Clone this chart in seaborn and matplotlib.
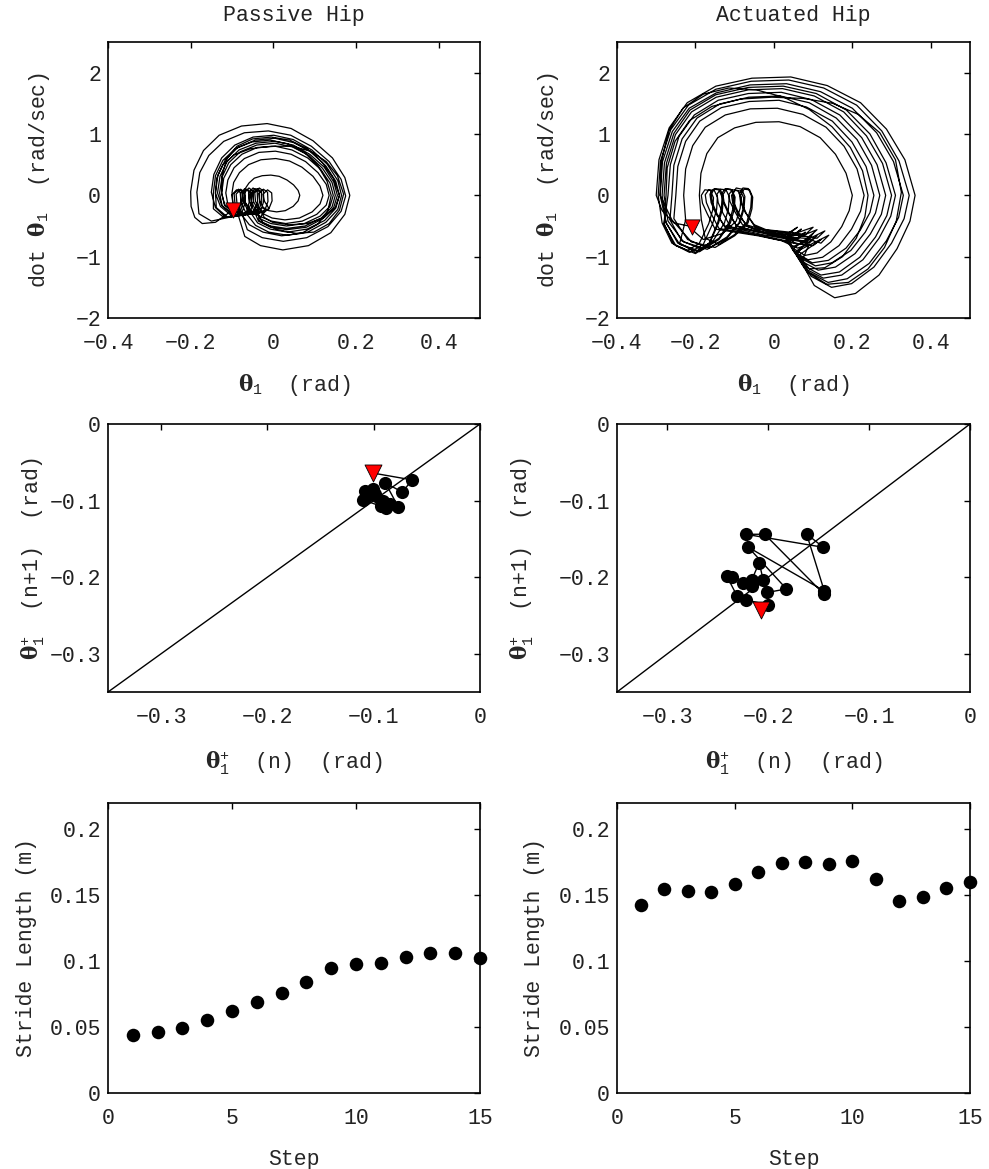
import matplotlib
matplotlib.use('Agg')
import matplotlib.pyplot as plt
import seaborn as sns

# ---- top row: phase portraits, one list per step loop ----
passive_theta = [
    [-0.098, -0.140, -0.172, -0.190, -0.199],
    [-0.200, -0.192, -0.169, -0.131, -0.077, -0.015, 0.043, 0.096, 0.143, 0.173, 0.185, 0.173,
     0.139, 0.085, 0.023, -0.031, -0.069, -0.086, -0.098, -0.100, -0.089, -0.079, -0.078,
     -0.087, -0.150, -0.180],
    [-0.185, -0.178, -0.156, -0.120, -0.070, -0.012, 0.042, 0.092, 0.135, 0.164, 0.175, 0.164,
     0.132, 0.081, 0.024, -0.027, -0.063, -0.076, -0.088, -0.090, -0.079, -0.069, -0.068,
     -0.077, -0.120, -0.145],
    [-0.145, -0.140, -0.122, -0.092, -0.052, -0.008, 0.035, 0.075, 0.108, 0.130, 0.140, 0.132,
     0.108, 0.068, 0.020, -0.025, -0.058, -0.081, -0.093, -0.095, -0.084, -0.074, -0.073,
     -0.082, -0.115, -0.140],
    [-0.150, -0.144, -0.125, -0.093, -0.049, 0.001, 0.048, 0.093, 0.130, 0.156, 0.165, 0.156,
     0.127, 0.083, 0.033, -0.011, -0.043, -0.066, -0.078, -0.080, -0.069, -0.059, -0.058,
     -0.067, -0.110, -0.138],
    [-0.140, -0.134, -0.116, -0.086, -0.044, 0.004, 0.049, 0.091, 0.127, 0.151, 0.160, 0.151,
     0.124, 0.082, 0.034, -0.008, -0.038, -0.056, -0.068, -0.070, -0.059, -0.049, -0.048,
     -0.057, -0.100, -0.128],
    [-0.140, -0.137, -0.122, -0.095, -0.055, -0.005, 0.045, 0.090, 0.128, 0.155, 0.170, 0.160,
     0.135, 0.098, 0.055, 0.010, -0.025, -0.041, -0.053, -0.055, -0.044, -0.034, -0.033,
     -0.042, -0.095, -0.125],
    [-0.135, -0.129, -0.112, -0.083, -0.042, 0.004, 0.048, 0.088, 0.123, 0.146, 0.155, 0.146,
     0.120, 0.080, 0.033, -0.007, -0.036, -0.046, -0.058, -0.060, -0.049, -0.039, -0.038,
     -0.047, -0.095, -0.124],
    [-0.130, -0.124, -0.108, -0.080, -0.040, 0.004, 0.046, 0.086, 0.119, 0.142, 0.150, 0.142,
     0.116, 0.077, 0.032, -0.007, -0.035, -0.036, -0.048, -0.050, -0.039, -0.029, -0.028,
     -0.037, -0.090, -0.118],
    [-0.125, -0.124, -0.112, -0.088, -0.050, -0.005, 0.040, 0.082, 0.118, 0.145, 0.160, 0.150,
     0.123, 0.082, 0.038, -0.002, -0.022, -0.031, -0.043, -0.045, -0.034, -0.024, -0.023,
     -0.032, -0.085, -0.118],
    [-0.125, -0.120, -0.103, -0.076, -0.039, 0.005, 0.045, 0.083, 0.115, 0.137, 0.145, 0.137,
     0.113, 0.075, 0.032, -0.006, -0.033, -0.021, -0.033, -0.035, -0.024, -0.014, -0.013,
     -0.022, -0.080, -0.110],
    [-0.115, -0.110, -0.095, -0.070, -0.035, 0.005, 0.043, 0.078, 0.108, 0.128, 0.135, 0.128,
     0.105, 0.070, 0.030, -0.005, -0.030, -0.061, -0.073, -0.075, -0.064, -0.054, -0.053,
     -0.062, -0.085, -0.098],
    [-0.100, -0.096, -0.082, -0.060, -0.030, 0.006, 0.039, 0.069, 0.096, 0.113, 0.120, 0.113,
     0.094, 0.063, 0.028, -0.003, -0.025, -0.011, -0.023, -0.025, -0.014, -0.004, -0.003,
     -0.012, -0.050, -0.068],
    [-0.070, -0.067, -0.059, -0.046, -0.027, -0.006, 0.014, 0.033, 0.049, 0.060, 0.064, 0.060,
     0.048, 0.029, 0.008, -0.011, -0.024, -0.050, -0.075],
]
passive_omega = [
    [-0.24, -0.44, -0.46, -0.36, -0.18],
    [0.06, 0.41, 0.73, 0.98, 1.13, 1.17, 1.09, 0.89, 0.61, 0.29, 0.00, -0.31,
     -0.61, -0.82, -0.89, -0.82, -0.67, -0.30, -0.14, 0.01, 0.09, 0.04, -0.12,
     -0.33, -0.42, -0.30],
    [0.05, 0.37, 0.65, 0.88, 1.02, 1.05, 0.98, 0.80, 0.55, 0.26, -0.01, -0.26,
     -0.51, -0.69, -0.75, -0.69, -0.56, -0.29, -0.13, 0.02, 0.10, 0.05, -0.11,
     -0.31, -0.36, -0.22],
    [0.04, 0.32, 0.57, 0.76, 0.87, 0.90, 0.84, 0.70, 0.48, 0.23, 0.00, -0.25,
     -0.47, -0.62, -0.66, -0.60, -0.48, -0.28, -0.12, 0.03, 0.10, 0.05, -0.11,
     -0.32, -0.36, -0.20],
    [0.05, 0.34, 0.61, 0.82, 0.95, 0.98, 0.91, 0.74, 0.51, 0.24, 0.00, -0.23,
     -0.44, -0.60, -0.65, -0.60, -0.49, -0.29, -0.12, 0.03, 0.11, 0.06, -0.10,
     -0.32, -0.36, -0.20],
    [0.05, 0.33, 0.58, 0.78, 0.90, 0.93, 0.86, 0.71, 0.48, 0.23, 0.00, -0.21,
     -0.41, -0.55, -0.60, -0.55, -0.45, -0.27, -0.11, 0.04, 0.12, 0.07, -0.09,
     -0.30, -0.34, -0.18],
    [0.03, 0.28, 0.50, 0.66, 0.76, 0.80, 0.80, 0.72, 0.55, 0.32, 0.02, -0.24,
     -0.46, -0.60, -0.62, -0.56, -0.45, -0.26, -0.11, 0.03, 0.11, 0.06, -0.10,
     -0.30, -0.33, -0.16],
    [0.04, 0.31, 0.55, 0.74, 0.85, 0.88, 0.82, 0.67, 0.46, 0.22, 0.00, -0.20,
     -0.38, -0.52, -0.56, -0.52, -0.42, -0.26, -0.10, 0.04, 0.12, 0.06, -0.10,
     -0.29, -0.34, -0.17],
    [0.04, 0.30, 0.53, 0.71, 0.82, 0.85, 0.79, 0.65, 0.44, 0.21, 0.00, -0.19,
     -0.37, -0.50, -0.54, -0.50, -0.41, -0.25, -0.10, 0.03, 0.11, 0.06, -0.10,
     -0.28, -0.33, -0.16],
    [0.03, 0.33, 0.60, 0.80, 0.92, 0.95, 0.90, 0.76, 0.54, 0.28, 0.00, -0.20,
     -0.36, -0.46, -0.48, -0.44, -0.36, -0.25, -0.10, 0.04, 0.12, 0.07, -0.09,
     -0.29, -0.33, -0.15],
    [0.04, 0.28, 0.50, 0.67, 0.78, 0.80, 0.74, 0.61, 0.42, 0.20, 0.00, -0.18,
     -0.34, -0.46, -0.50, -0.46, -0.38, -0.24, -0.09, 0.03, 0.10, 0.05, -0.10,
     -0.27, -0.32, -0.15],
    [0.04, 0.25, 0.45, 0.60, 0.70, 0.72, 0.67, 0.55, 0.37, 0.18, 0.00, -0.16,
     -0.31, -0.42, -0.46, -0.42, -0.35, -0.25, -0.10, 0.03, 0.10, 0.05, -0.11,
     -0.28, -0.30, -0.12],
    [0.04, 0.21, 0.37, 0.50, 0.58, 0.60, 0.56, 0.46, 0.31, 0.15, 0.00, -0.14,
     -0.27, -0.37, -0.40, -0.37, -0.30, -0.21, -0.08, 0.02, 0.09, 0.04, -0.09,
     -0.24, -0.28, -0.12],
    [0.02, 0.12, 0.20, 0.28, 0.32, 0.33, 0.31, 0.25, 0.17, 0.08, 0.00, -0.09,
     -0.18, -0.25, -0.27, -0.25, -0.20, -0.26, -0.30],
]

actuated_theta = [
    [-0.209, -0.255, -0.285],
    [-0.300, -0.293, -0.267, -0.221, -0.148, -0.056, 0.043, 0.136, 0.221, 0.287, 0.334, 0.360,
     0.347, 0.314, 0.268, 0.208, 0.155, 0.103, 0.070, 0.090, 0.060, 0.020, -0.040, -0.150,
     -0.170, -0.182, -0.185, -0.176, -0.162, -0.154, -0.156, -0.166,
     -0.190, -0.220, -0.260, -0.285],
    [-0.295, -0.289, -0.263, -0.218, -0.148, -0.058, 0.038, 0.127, 0.211, 0.275, 0.319, 0.345,
     0.332, 0.300, 0.255, 0.198, 0.147, 0.095, 0.063, 0.120, 0.100, 0.050, -0.020, -0.125,
     -0.145, -0.157, -0.160, -0.151, -0.137, -0.129, -0.131, -0.141,
     -0.165, -0.200, -0.250, -0.280],
    [-0.275, -0.272, -0.252, -0.215, -0.158, -0.085, -0.005, 0.075, 0.150, 0.215, 0.270, 0.310,
     0.325, 0.312, 0.282, 0.240, 0.190, 0.135, 0.085, 0.055, 0.110, 0.090, 0.040, -0.030,
     -0.110, -0.130, -0.142, -0.145, -0.136, -0.122, -0.114, -0.116, -0.126,
     -0.155, -0.195, -0.245, -0.275],
    [-0.290, -0.284, -0.259, -0.216, -0.147, -0.061, 0.032, 0.119, 0.200, 0.262, 0.305, 0.330,
     0.318, 0.287, 0.243, 0.187, 0.138, 0.088, 0.057, 0.140, 0.120, 0.080, 0.000, -0.095,
     -0.115, -0.127, -0.130, -0.121, -0.107, -0.099, -0.101, -0.111,
     -0.140, -0.190, -0.240, -0.275],
    [-0.285, -0.279, -0.255, -0.214, -0.148, -0.065, 0.024, 0.108, 0.185, 0.245, 0.286, 0.310,
     0.298, 0.268, 0.227, 0.173, 0.126, 0.078, 0.048, 0.100, 0.085, 0.050, -0.010, -0.070,
     -0.090, -0.102, -0.105, -0.096, -0.082, -0.074, -0.076, -0.086,
     -0.120, -0.170, -0.230, -0.270],
    [-0.280, -0.274, -0.251, -0.210, -0.147, -0.065, 0.022, 0.103, 0.178, 0.236, 0.277, 0.300,
     0.288, 0.259, 0.219, 0.167, 0.120, 0.074, 0.045, 0.130, 0.110, 0.070, 0.000, -0.050,
     -0.070, -0.082, -0.085, -0.076, -0.062, -0.054, -0.056, -0.066,
     -0.100, -0.150, -0.210, -0.260],
    [-0.290, -0.287, -0.268, -0.232, -0.180, -0.115, -0.045, 0.025, 0.090, 0.148, 0.195, 0.226,
     0.240, 0.232, 0.210, 0.175, 0.130, 0.090, 0.060, 0.090, 0.070, 0.030, -0.030, -0.140,
     -0.160, -0.172, -0.175, -0.166, -0.152, -0.144, -0.146, -0.156,
     -0.180, -0.215, -0.255, -0.280],
    [-0.270, -0.264, -0.242, -0.203, -0.142, -0.065, 0.019, 0.096, 0.168, 0.224, 0.263, 0.285,
     0.274, 0.246, 0.207, 0.157, 0.113, 0.069, 0.041, 0.080, 0.060, 0.020, -0.040, -0.095,
     -0.118, -0.130, -0.133, -0.124, -0.110, -0.102, -0.104, -0.114,
     -0.140, -0.185, -0.235, -0.265],
    [-0.260, -0.255, -0.234, -0.196, -0.138, -0.064, 0.016, 0.090, 0.159, 0.212, 0.249, 0.270,
     0.259, 0.233, 0.196, 0.148, 0.106, 0.063, 0.037, 0.110, 0.090, 0.050, -0.020, -0.070,
     -0.093, -0.105, -0.108, -0.099, -0.085, -0.077, -0.079, -0.089,
     -0.120, -0.165, -0.220, -0.255],
    [-0.250, -0.245, -0.225, -0.189, -0.134, -0.063, 0.013, 0.083, 0.149, 0.199, 0.235, 0.255,
     0.245, 0.220, 0.184, 0.139, 0.098, 0.058, 0.033, 0.070, 0.050, 0.010, -0.050, -0.125,
     -0.148, -0.160, -0.163, -0.154, -0.140, -0.132, -0.134, -0.144,
     -0.165, -0.200, -0.240, -0.225],
    [-0.230, -0.225, -0.207, -0.175, -0.124, -0.060, 0.009, 0.074, 0.133, 0.179, 0.212, 0.230,
     0.221, 0.198, 0.166, 0.124, 0.087, 0.051, 0.028, 0.100, 0.080, 0.040, -0.020, -0.050,
     -0.073, -0.085, -0.088, -0.079, -0.065, -0.057, -0.059, -0.069,
     -0.100, -0.140, -0.175, -0.185],
    [-0.190, -0.186, -0.171, -0.143, -0.100, -0.046, 0.013, 0.067, 0.118, 0.157, 0.184, 0.200,
     0.192, 0.173, 0.145, 0.110, 0.079, 0.048, 0.028, 0.060, 0.040, 0.000, -0.050, -0.080,
     -0.100, -0.112, -0.115, -0.106, -0.092, -0.084, -0.086, -0.096,
     -0.130, -0.180, -0.210],
]
actuated_omega = [
    [-0.51, -0.45, -0.25],
    [0.00, 0.58, 1.10, 1.51, 1.78, 1.91, 1.93, 1.79, 1.51, 1.08, 0.58, 0.00,
     -0.42, -0.87, -1.30, -1.60, -1.67, -1.47, -1.09, -0.80, -0.86, -0.74, -0.66, -0.55,
     -0.30, -0.13, 0.00, 0.09, 0.08, -0.04, -0.24, -0.46,
     -0.78, -0.90, -0.78, -0.45],
    [0.00, 0.56, 1.07, 1.47, 1.73, 1.86, 1.88, 1.75, 1.47, 1.05, 0.56, 0.00,
     -0.38, -0.78, -1.17, -1.44, -1.50, -1.32, -0.98, -0.72, -0.82, -0.78, -0.68, -0.52,
     -0.30, -0.12, 0.02, 0.11, 0.10, -0.02, -0.22, -0.45,
     -0.80, -0.95, -0.82, -0.48],
    [0.00, 0.45, 0.88, 1.22, 1.45, 1.57, 1.60, 1.58, 1.50, 1.32, 1.02, 0.58,
     0.05, -0.42, -0.85, -1.20, -1.42, -1.45, -1.25, -0.92, -0.66, -0.78, -0.72, -0.64,
     -0.52, -0.29, -0.12, 0.02, 0.10, 0.09, -0.02, -0.22, -0.45,
     -0.74, -0.90, -0.78, -0.44],
    [0.00, 0.55, 1.04, 1.42, 1.67, 1.80, 1.82, 1.69, 1.42, 1.02, 0.55, 0.00,
     -0.36, -0.74, -1.11, -1.36, -1.42, -1.25, -0.92, -0.65, -0.78, -0.70, -0.66, -0.50,
     -0.28, -0.11, 0.01, 0.10, 0.09, -0.03, -0.23, -0.45,
     -0.72, -0.92, -0.80, -0.45],
    [0.00, 0.53, 1.01, 1.39, 1.64, 1.76, 1.78, 1.66, 1.39, 1.00, 0.53, 0.00,
     -0.34, -0.70, -1.05, -1.30, -1.35, -1.19, -0.88, -0.62, -0.75, -0.72, -0.64, -0.50,
     -0.29, -0.12, 0.03, 0.12, 0.10, -0.02, -0.21, -0.44,
     -0.70, -0.88, -0.76, -0.42],
    [0.00, 0.52, 0.99, 1.36, 1.60, 1.72, 1.74, 1.62, 1.36, 0.97, 0.52, 0.00,
     -0.33, -0.68, -1.01, -1.25, -1.30, -1.14, -0.85, -0.58, -0.70, -0.66, -0.62, -0.50,
     -0.30, -0.13, 0.01, 0.10, 0.09, -0.03, -0.22, -0.45,
     -0.66, -0.85, -0.76, -0.40],
    [0.00, 0.55, 1.05, 1.42, 1.65, 1.75, 1.72, 1.60, 1.40, 1.12, 0.78, 0.40,
     0.00, -0.35, -0.70, -1.00, -1.18, -1.20, -0.95, -0.70, -0.80, -0.74, -0.66, -0.54,
     -0.30, -0.12, 0.01, 0.09, 0.08, -0.03, -0.23, -0.46,
     -0.80, -0.93, -0.80, -0.46],
    [0.00, 0.50, 0.96, 1.31, 1.55, 1.66, 1.68, 1.56, 1.31, 0.94, 0.50, 0.00,
     -0.31, -0.63, -0.95, -1.17, -1.22, -1.07, -0.79, -0.60, -0.72, -0.65, -0.60, -0.50,
     -0.27, -0.10, 0.03, 0.11, 0.10, -0.01, -0.21, -0.44,
     -0.70, -0.88, -0.74, -0.40],
    [0.00, 0.49, 0.92, 1.26, 1.49, 1.60, 1.62, 1.51, 1.26, 0.91, 0.49, 0.00,
     -0.29, -0.60, -0.90, -1.10, -1.15, -1.01, -0.75, -0.56, -0.68, -0.62, -0.58, -0.48,
     -0.29, -0.12, 0.00, 0.08, 0.07, -0.04, -0.23, -0.45,
     -0.68, -0.86, -0.72, -0.38],
    [0.00, 0.47, 0.88, 1.21, 1.43, 1.53, 1.55, 1.44, 1.21, 0.87, 0.47, 0.00,
     -0.28, -0.57, -0.86, -1.06, -1.10, -0.97, -0.72, -0.55, -0.66, -0.62, -0.58, -0.50,
     -0.30, -0.12, 0.02, 0.10, 0.09, -0.03, -0.22, -0.46,
     -0.78, -0.93, -0.78, -0.40],
    [0.00, 0.43, 0.81, 1.11, 1.31, 1.41, 1.42, 1.32, 1.11, 0.80, 0.43, 0.00,
     -0.26, -0.55, -0.82, -1.01, -1.05, -0.92, -0.68, -0.52, -0.64, -0.60, -0.56, -0.48,
     -0.28, -0.11, 0.03, 0.12, 0.11, -0.01, -0.20, -0.44,
     -0.64, -0.80, -0.70, -0.40],
    [0.00, 0.36, 0.68, 0.94, 1.10, 1.19, 1.20, 1.12, 0.94, 0.67, 0.36, 0.00,
     -0.25, -0.51, -0.76, -0.94, -0.98, -0.86, -0.65, -0.52, -0.62, -0.58, -0.55, -0.48,
     -0.26, -0.10, 0.01, 0.09, 0.08, -0.03, -0.21, -0.42,
     -0.62, -0.72, -0.55],
]

# heel-strike markers
passive_start = (-0.098, -0.24)
actuated_start = (-0.209, -0.51)

# ---- middle row: return maps (theta+ at step n vs n+1), path order ----
passive_map_n = [-0.101, -0.064, -0.073, -0.089, -0.077, -0.108, -0.088, -0.110,
                 -0.099, -0.091, -0.101, -0.085, -0.105, -0.093, -0.107]
passive_map_n1 = [-0.064, -0.073, -0.089, -0.077, -0.108, -0.088, -0.110, -0.099,
                  -0.091, -0.101, -0.085, -0.105, -0.093, -0.107, -0.095]
actuated_map_n = [-0.2075, -0.200, -0.222, -0.231, -0.241, -0.236, -0.225, -0.2165,
                  -0.2165, -0.209, -0.205, -0.201, -0.182, -0.2198, -0.1445, -0.162,
                  -0.1455, -0.2224, -0.2036, -0.145]
actuated_map_n1 = [-0.243, -0.236, -0.230, -0.2245, -0.199, -0.200, -0.207, -0.212,
                   -0.204, -0.181, -0.204, -0.220, -0.2154, -0.161, -0.218, -0.1436,
                   -0.161, -0.144, -0.144, -0.222]
diagonal = [-0.35, 0.0]

# ---- bottom row: stride length per step ----
steps = list(range(1, 16))
passive_stride = [0.0438, 0.0463, 0.0494, 0.0557, 0.0620, 0.0691, 0.0762, 0.0841,
                  0.0947, 0.0982, 0.0990, 0.1033, 0.1063, 0.1063, 0.1023]
actuated_stride = [0.1428, 0.1549, 0.1532, 0.1522, 0.1585, 0.1676, 0.1742, 0.1749,
                   0.1737, 0.1759, 0.1625, 0.1458, 0.1484, 0.1552, 0.1597]

# tick values and labels
phase_xticks = [-0.4, -0.2, 0, 0.2, 0.4]
phase_xlabels = ['\u22120.4', '\u22120.2', '0', '0.2', '0.4']
phase_yticks = [-2, -1, 0, 1, 2]
phase_ylabels = ['\u22122', '\u22121', '0', '1', '2']
map_ticks = [-0.3, -0.2, -0.1, 0]
map_labels = ['\u22120.3', '\u22120.2', '\u22120.1', '0']
step_ticks = [0, 5, 10, 15]
step_labels = ['0', '5', '10', '15']
stride_ticks = [0, 0.05, 0.1, 0.15, 0.2]
stride_labels = ['0', '0.05', '0.1', '0.15', '0.2']

sns.set_theme(style='white')
plt.rcParams['font.family'] = ['Liberation Mono', 'DejaVu Sans']
plt.rcParams.update({
    'mathtext.fontset': 'custom',
    'mathtext.rm': 'Liberation Mono',
    'mathtext.it': 'Liberation Mono',
    'mathtext.bf': 'DejaVu Serif:bold',
    'axes.edgecolor': 'black',
    'axes.linewidth': 1.2,
    'text.color': '#222222',
})

FS = 15.5
fig = plt.figure(figsize=(9.89, 11.69), dpi=100)

left_x, left_w = 108 / 989, 372 / 989
right_x, right_w = 617 / 989, 353 / 989
rows = [(1 - 318 / 1169, 276 / 1169), (1 - 692 / 1169, 268 / 1169), (1 - 1093 / 1169, 290 / 1169)]


def style(ax, xlim, ylim, xt, xl, yt, yl):
    """Matlab-like box axes with inward ticks."""
    ax.set_xlim(xlim)
    ax.set_ylim(ylim)
    ax.set_xticks(xt)
    ax.set_xticklabels(xl)
    ax.set_yticks(yt)
    ax.set_yticklabels(yl)
    ax.tick_params(which='both', direction='in', top=True, right=True, length=4,
                   width=1, labelsize=FS, colors='black', labelcolor='#222222')
    ax.tick_params(axis='x', pad=11)
    ax.tick_params(axis='y', pad=5)
    for s in ax.spines.values():
        s.set_visible(True)
        s.set_color('black')


def flat(loops):
    out = []
    for lp in loops:
        out.extend(lp)
    return out


panels = [
    ('Passive Hip', passive_theta, passive_omega, passive_start,
     passive_map_n, passive_map_n1, passive_stride, left_x, left_w),
    ('Actuated Hip', actuated_theta, actuated_omega, actuated_start,
     actuated_map_n, actuated_map_n1, actuated_stride, right_x, right_w),
]

ylab_pos = {
    'Passive Hip': (-0.150, -0.165, -0.190),
    'Actuated Hip': (-0.160, -0.230, -0.205),
}

for title, th, om, start, mn, mn1, stride, x0, w in panels:
    # phase portrait
    ax = fig.add_axes([x0, rows[0][0], w, rows[0][1]])
    sns.lineplot(x=flat(th), y=flat(om), sort=False, estimator=None, color='black',
                 linewidth=0.9, ax=ax)
    sns.scatterplot(x=[start[0]], y=[start[1]], marker='v', s=120, color='red',
                    edgecolor='black', linewidth=0.6, zorder=5, ax=ax)
    style(ax, (-0.4, 0.5), (-2, 2.5), phase_xticks, phase_xlabels, phase_yticks, phase_ylabels)
    ax.set_title(title, fontsize=FS, pad=15)
    ax.set_xlabel(r'$\mathbf{\theta}_{1}$  (rad)', fontsize=FS, labelpad=13)
    ax.set_ylabel(r'dot $\mathbf{\theta}_{1}$  (rad/sec)', fontsize=FS)
    ax.yaxis.set_label_coords(ylab_pos[title][0], 0.5)

    # return map
    ax = fig.add_axes([x0, rows[1][0], w, rows[1][1]])
    sns.lineplot(x=diagonal, y=diagonal, color='black', linewidth=1.0, ax=ax)
    sns.lineplot(x=mn, y=mn1, sort=False, estimator=None, color='black', linewidth=1.0, ax=ax)
    sns.scatterplot(x=mn[1:], y=mn1[1:], s=90, color='black', edgecolor='black',
                    linewidth=0, zorder=4, ax=ax)
    sns.scatterplot(x=mn[:1], y=mn1[:1], marker='v', s=150, color='red',
                    edgecolor='black', linewidth=0.6, zorder=5, ax=ax)
    style(ax, (-0.35, 0), (-0.35, 0), map_ticks, map_labels, map_ticks, map_labels)
    ax.set_xlabel(r'$\mathbf{\theta}_{1}^{+}$  (n)  (rad)', fontsize=FS, labelpad=15)
    ax.set_ylabel(r'$\mathbf{\theta}_{1}^{+}$  (n+1)  (rad)', fontsize=FS)
    ax.yaxis.set_label_coords(ylab_pos[title][1], 0.5)

    # stride length
    ax = fig.add_axes([x0, rows[2][0], w, rows[2][1]])
    sns.scatterplot(x=steps, y=stride, s=95, color='black', edgecolor='black',
                    linewidth=0, ax=ax, clip_on=False, zorder=4)
    style(ax, (0, 15), (0, 0.22), step_ticks, step_labels, stride_ticks, stride_labels)
    ax.set_xlabel('Step', fontsize=FS, labelpad=14)
    ax.set_ylabel('Stride Length (m)', fontsize=FS)
    ax.yaxis.set_label_coords(ylab_pos[title][2], 0.5)

fig.savefig('out.png', dpi=100)
